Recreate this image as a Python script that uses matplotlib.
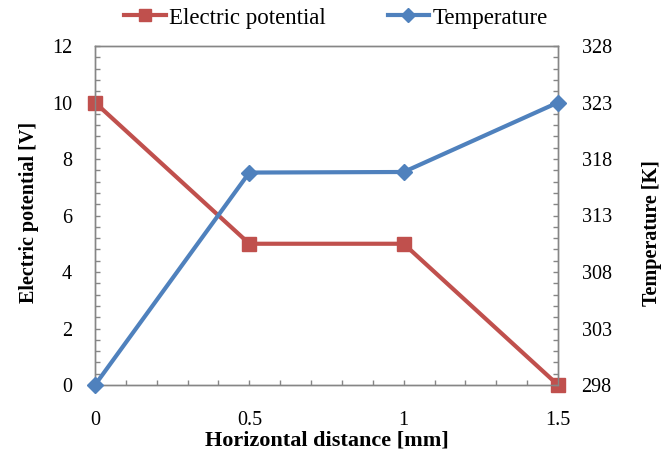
import matplotlib
matplotlib.use('Agg')
import matplotlib.pyplot as plt
from matplotlib.ticker import MultipleLocator
from matplotlib.lines import Line2D

# data
distance = [0, 0.5, 1, 1.5]
potential = [10, 5, 5, 0]
temperature = [298, 316.8, 316.85, 323]
x_ticks = [0, 0.5, 1, 1.5]
x_ticklabels = ['0', '0.5', '1', '1.5']
temp_ticks = [298, 303, 308, 313, 318, 323, 328]

red = '#C0504D'
blue = '#4F81BD'
grey = '#868686'

plt.rcParams['font.family'] = ['Liberation Serif', 'DejaVu Serif']

fig = plt.figure(figsize=(6.62, 4.57), dpi=100)
ax = fig.add_axes([95 / 662, 1 - 385 / 457, (558 - 95) / 662, (385 - 46) / 457])
ax2 = ax.twinx()

ax.plot(distance, potential, color=red, lw=3, marker='s', ms=9.5, clip_on=False, zorder=3)
ax2.plot(distance, temperature, color=blue, lw=3, marker='D', ms=8.5, clip_on=False, zorder=3)

ax.set_xlim(0, 1.5)
ax.set_ylim(0, 12)
ax2.set_ylim(298, 328)
ax.set_xticks(x_ticks)
ax.set_xticklabels(x_ticklabels)
ax.xaxis.set_minor_locator(MultipleLocator(0.1))
ax.yaxis.set_major_locator(MultipleLocator(2))
ax.yaxis.set_minor_locator(MultipleLocator(0.4))
ax2.set_yticks(temp_ticks)
ax2.yaxis.set_minor_locator(MultipleLocator(1))

for a in (ax, ax2):
    for s in a.spines.values():
        s.set_color(grey)
        s.set_linewidth(1.0)
    a.tick_params(which='both', direction='in', color=grey, width=1.0,
                  length=3.6, labelsize=14.5)
ax.tick_params(axis='y', which='both', left=True, right=False, pad=16.5)
ax.tick_params(axis='x', which='both', top=False, pad=19)
ax2.tick_params(axis='y', which='both', right=True, left=False, pad=17)

ax.set_xlabel('Horizontal distance [mm]', fontweight='bold', fontsize=16)
ax.set_ylabel('Electric potential [V]', fontweight='bold', fontsize=14.5)
ax2.set_ylabel('Temperature [K]', fontweight='bold', fontsize=14.5)
ax.xaxis.set_label_coords(0.5, -0.135)
ax.yaxis.set_label_coords(-0.122, 0.51)
ax2.yaxis.set_label_coords(1.181, 0.448)

handles = [
    Line2D([], [], color=red, lw=3, marker='s', ms=9),
    Line2D([], [], color=blue, lw=3, marker='D', ms=7),
]
fig.legend(handles, ['Electric potential', 'Temperature'], loc='center',
           bbox_to_anchor=(336 / 662, 1 - 18 / 457), ncol=2, frameon=False,
           fontsize=16.5, handlelength=1.8, handletextpad=0.15, columnspacing=2.7)

fig.savefig('out.png', dpi=100)
